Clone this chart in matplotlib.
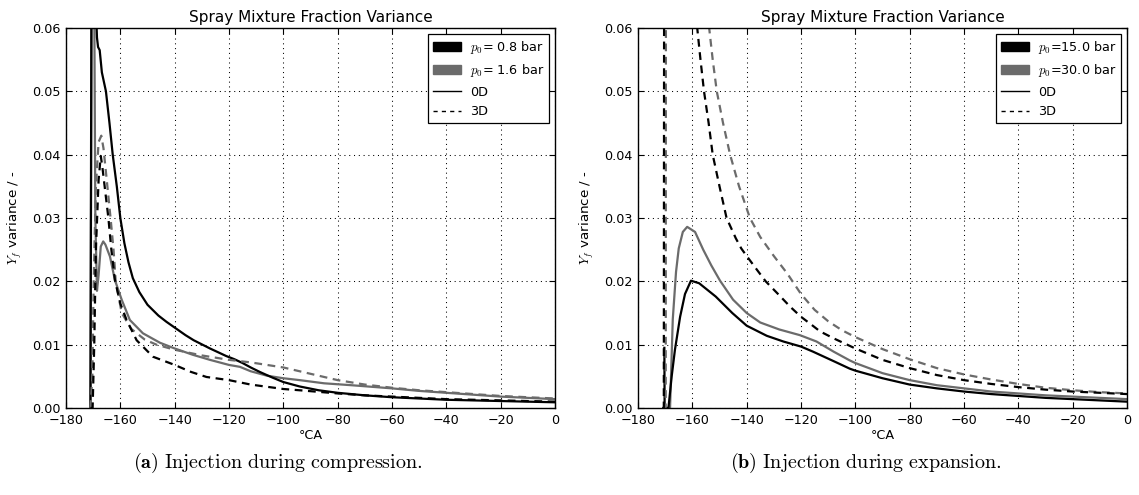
import matplotlib
matplotlib.use("Agg")
import matplotlib.pyplot as plt
from matplotlib.patches import Patch
from matplotlib.lines import Line2D

plt.rcParams['mathtext.fontset'] = 'cm'
plt.rcParams['font.family'] = ['DejaVu Sans']

# ---------------- data: (a) injection during compression ----------------
comp_08_0d_x = [-171, -170.5, -169.2, -168.6, -168.2, -167.6, -166.8, -165.3, -164.0, -162.8, -161.3,
                -160.0, -158.5, -157.0, -155.4, -153, -150, -146, -143, -140, -136, -133, -127, -121,
                -118, -115, -112, -108.7, -104, -100, -94, -87, -80, -70, -60, -50, -40, -30, -20, -10, 0]
comp_08_0d_y = [0.0, 0.09, 0.066, 0.0585, 0.057, 0.0565, 0.053, 0.050, 0.045, 0.040, 0.035,
                0.0300, 0.0260, 0.0230, 0.0205, 0.0183, 0.0163, 0.0146, 0.0136, 0.0127, 0.0115, 0.0107, 0.0094, 0.0082,
                0.0077, 0.0071, 0.0064, 0.0057, 0.0048, 0.0041, 0.0034, 0.0028, 0.0024, 0.0020, 0.0017, 0.0015,
                0.0013, 0.0012, 0.0011, 0.0010, 0.0009]

comp_16_0d_x = [-171, -170.4, -169.9, -169.2, -168.6, -168.0, -167.2, -166.3, -165.5, -163.8, -162.0,
                -159.5, -156.5, -151.7, -145.4, -140, -133.3, -127, -120, -116, -112, -106, -100,
                -94, -85, -75, -60, -50, -40, -30, -20, -10, 0]
comp_16_0d_y = [0.0, 0.09, 0.09, 0.030, 0.0185, 0.021, 0.0255, 0.0263, 0.0258, 0.0239, 0.0202,
                0.0171, 0.0139, 0.0118, 0.0103, 0.0094, 0.0084, 0.0076, 0.0068, 0.0065, 0.0058, 0.0051, 0.0047,
                0.0044, 0.0039, 0.0036, 0.0031, 0.0027, 0.0024, 0.0021, 0.0018, 0.0016, 0.0014]

comp_08_3d_x = [-171, -170.2, -169.6, -169.0, -168.0, -167.2, -166.6, -165.5, -164.4, -163.3, -162.0,
                -160.0, -157.7, -154.0, -148, -140, -134, -128.3, -120, -112, -100, -94, -80,
                -70, -60, -50, -40, -30, -20, -10, 0]
comp_08_3d_y = [0.0, 0.0, 0.010, 0.025, 0.036, 0.0398, 0.038, 0.034, 0.030, 0.025, 0.0202,
                0.0165, 0.0139, 0.0107, 0.0081, 0.0068, 0.0057, 0.0049, 0.0044, 0.0037, 0.0030, 0.0028, 0.0023,
                0.0020, 0.0018, 0.0016, 0.0014, 0.0013, 0.0012, 0.0011, 0.0010]

comp_16_3d_x = [-171, -170.3, -169.8, -169.0, -168.0, -167.0, -166.2, -165.0, -163.6, -162.5, -161.7,
                -159.5, -156.0, -151.0, -146.7, -140, -130, -120, -112, -100, -94, -80,
                -70, -60, -50, -40, -30, -20, -10, 0]
comp_16_3d_y = [0.0, 0.005, 0.020, 0.035, 0.042, 0.043, 0.041, 0.036, 0.030, 0.025, 0.020,
                0.015, 0.0125, 0.0108, 0.0100, 0.0092, 0.0083, 0.0076, 0.0072, 0.0064, 0.0058, 0.0044,
                0.0037, 0.0032, 0.0028, 0.0025, 0.0022, 0.0019, 0.0017, 0.0015]

# ---------------- data: (b) injection during expansion ----------------
exp_15_0d_x = [-170.3, -170.2, -168.8, -167.6, -166.4, -164.5, -162.7, -160.5, -157.5, -151.4, -145.3,
               -140, -132.6, -126.5, -120, -115.6, -107.5, -102, -100, -90, -80, -70, -60, -50,
               -40, -30, -20, -10, 0]
exp_15_0d_y = [0.0095, 0.0, 0.0, 0.0050, 0.0092, 0.0144, 0.0180, 0.0201, 0.0197, 0.0176, 0.0150,
               0.0130, 0.0114, 0.0105, 0.0097, 0.0089, 0.0073, 0.0062, 0.0059, 0.0047, 0.0037, 0.0031, 0.0026, 0.0022,
               0.0019, 0.0016, 0.0014, 0.0012, 0.0010]

exp_30_0d_x = [-169.0, -168.2, -167.2, -166.0, -165.0, -163.5, -161.9, -159, -156, -153, -149.8,
               -145, -140, -135, -128, -120.4, -114.3, -108, -102, -100, -90, -80, -70, -60,
               -50, -40, -30, -20, -10, 0]
exp_30_0d_y = [0.0, 0.0, 0.0140, 0.0215, 0.0252, 0.0278, 0.0286, 0.0278, 0.0250, 0.0225, 0.0201,
               0.0171, 0.0150, 0.0135, 0.0124, 0.0115, 0.0105, 0.0089, 0.0075, 0.0071, 0.0055, 0.0044, 0.0036, 0.0031,
               0.0026, 0.0023, 0.0020, 0.0018, 0.0016, 0.0014]

exp_15_3d_x = [-171, -170.5, -170.0, -160.0, -158.2, -157.0, -155.7, -154.0, -152.5, -150.0, -147.4,
               -144, -142, -140, -136, -133, -128, -124, -120, -116, -113, -108, -104, -100,
               -90, -80, -70, -60, -50, -40, -30, -20, -10, 0]
exp_15_3d_y = [0.0, 0.0, 0.30, 0.10, 0.060, 0.055, 0.050, 0.045, 0.040, 0.035, 0.030,
               0.0268, 0.0252, 0.0240, 0.0217, 0.0200, 0.0178, 0.0160, 0.0144, 0.0131, 0.0121, 0.0110, 0.0102, 0.0094,
               0.0076, 0.0063, 0.0052, 0.0044, 0.0038, 0.0033, 0.0029, 0.0026, 0.0024, 0.0022]

exp_30_3d_x = [-171, -169.8, -169.3, -156.0, -153.8, -152.5, -151.0, -148.7, -146.1, -142.8, -138.8,
               -135, -130, -125, -120, -115, -110, -105, -100, -90, -80, -70, -60, -50,
               -40, -30, -20, -10, 0]
exp_30_3d_y = [0.0, 0.0, 0.40, 0.12, 0.060, 0.055, 0.050, 0.045, 0.040, 0.035, 0.030,
               0.0270, 0.0240, 0.0212, 0.0180, 0.0155, 0.0137, 0.0123, 0.0112, 0.0093, 0.0077, 0.0063, 0.0053, 0.0045,
               0.0038, 0.0032, 0.0028, 0.0025, 0.0023]

x_ticks = [-180, -160, -140, -120, -100, -80, -60, -40, -20, 0]
y_ticks = [0.00, 0.01, 0.02, 0.03, 0.04, 0.05, 0.06]
title_text = "Spray Mixture Fraction Variance"
ylabel_text = r"$Y_f$ variance / -"
xlabel_text = "°CA"
legend_comp = [r"$p_0$= 0.8 bar", r"$p_0$= 1.6 bar", "0D", "3D"]
legend_exp = [r"$p_0$=15.0 bar", r"$p_0$=30.0 bar", "0D", "3D"]
captions = [r"$\mathbf{(a)}\ \mathrm{Injection\ during\ compression.}$",
            r"$\mathbf{(b)}\ \mathrm{Injection\ during\ expansion.}$"]

GRAY = '0.42'
FS = 9.2

fig = plt.figure(figsize=(11.39, 4.95), dpi=100)
ax1 = fig.add_axes([66/1139, 87/495, 489/1139, 380/495])
ax2 = fig.add_axes([638/1139, 87/495, 489/1139, 380/495])


def style(ax, labels, series):
    (x08, y08, x16, y16, x08d, y08d, x16d, y16d) = series
    ax.plot(x16, y16, color=GRAY, lw=1.6, solid_joinstyle='round')
    ax.plot(x08, y08, color='k', lw=1.6, solid_joinstyle='round')
    ax.plot(x16d, y16d, color=GRAY, lw=1.6, ls=(0, (3.5, 2.5)))
    ax.plot(x08d, y08d, color='k', lw=1.6, ls=(0, (3.5, 2.5)))
    ax.set_xlim(-180, 0)
    ax.set_ylim(0, 0.06)
    ax.set_xticks(x_ticks)
    ax.set_yticks(y_ticks)
    ax.set_yticklabels([f"{v:.2f}" for v in y_ticks])
    ax.grid(True, color='k', ls=(0, (1, 3.6)), lw=0.75)
    ax.tick_params(direction='in', top=True, right=True, length=4, width=0.8, labelsize=FS, pad=4)
    for s in ax.spines.values():
        s.set_linewidth(1.0)
    ax.set_title(title_text, fontsize=11, pad=4)
    ax.set_xlabel(xlabel_text, fontsize=FS, labelpad=2)
    ax.set_ylabel(ylabel_text, fontsize=FS + 0.5, labelpad=6)
    handles = [Patch(facecolor='k', edgecolor='k'), Patch(facecolor=GRAY, edgecolor=GRAY),
               Line2D([], [], color='k', lw=1.0), Line2D([], [], color='k', lw=1.0, ls=(0, (3, 3)))]
    leg = ax.legend(handles, labels, loc='upper right', fontsize=FS, fancybox=False, framealpha=1,
                    edgecolor='k', handlelength=2.2, handletextpad=0.7, labelspacing=0.5,
                    borderaxespad=0.45, borderpad=0.4)
    leg.get_frame().set_linewidth(0.9)


style(ax1, legend_comp, (comp_08_0d_x, comp_08_0d_y, comp_16_0d_x, comp_16_0d_y,
                         comp_08_3d_x, comp_08_3d_y, comp_16_3d_x, comp_16_3d_y))
style(ax2, legend_exp, (exp_15_0d_x, exp_15_0d_y, exp_30_0d_x, exp_30_0d_y,
                        exp_15_3d_x, exp_15_3d_y, exp_30_3d_x, exp_30_3d_y))

fig.text(278/1139, 1 - 463/495, captions[0], fontsize=14.5, ha='center', va='center')
fig.text(866/1139, 1 - 463/495, captions[1], fontsize=14.5, ha='center', va='center')

fig.savefig("out.png", dpi=100)
